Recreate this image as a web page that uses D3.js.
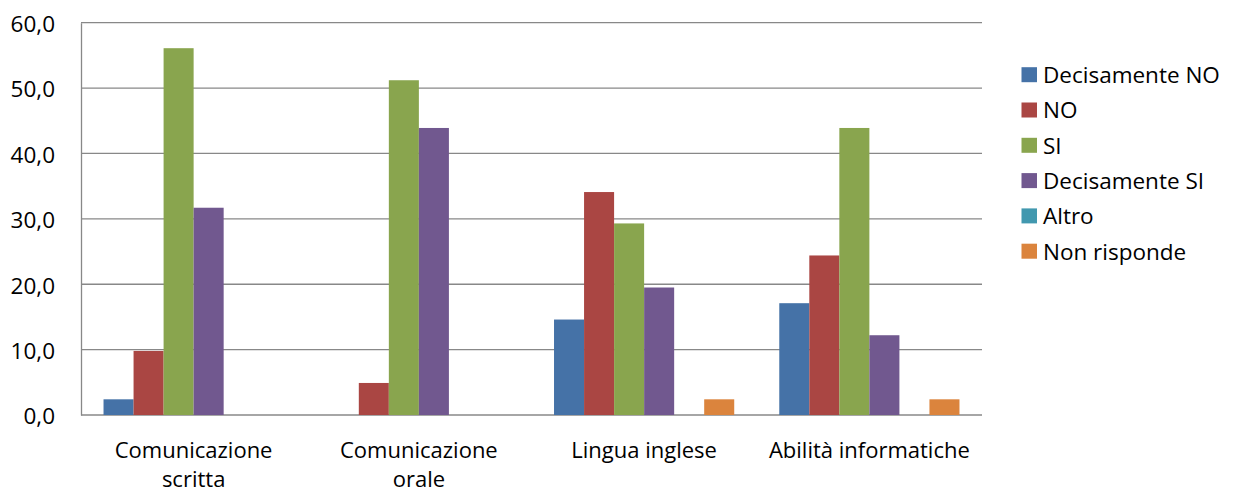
<!DOCTYPE html>
<html>
<head>
<meta charset="utf-8">
<script src="https://cdn.jsdelivr.net/npm/d3@7"></script>
<style>
  body { margin: 0; background: #fff; }
  text { font-family: "Open Sans", "Noto Sans", sans-serif; fill: #000; }
</style>
</head>
<body>
<div id="chart"></div>
<script>
const categories = [["Comunicazione", "scritta"], ["Comunicazione", "orale"], ["Lingua inglese"], ["Abilità informatiche"]];
const seriesNames = ["Decisamente NO", "NO", "SI", "Decisamente SI", "Altro", "Non risponde"];
const decisamenteNo = [2.4, 0, 14.6, 17.1];
const no = [9.8, 4.9, 34.1, 24.4];
const si = [56.1, 51.2, 29.3, 43.9];
const decisamenteSi = [31.7, 43.9, 19.5, 12.2];
const altro = [0, 0, 0, 0];
const nonRisponde = [0, 0, 2.4, 2.4];
const yTicks = [0, 10, 20, 30, 40, 50, 60];
const colors = ["#4572A7", "#AA4643", "#89A54E", "#71588F", "#4198AF", "#DB843D"];

const series = [decisamenteNo, no, si, decisamenteSi, altro, nonRisponde];
const width = 1233, height = 493;
const margin = { left: 81, right: 251, top: 22.7, bottom: 78 };
const fontSize = 22.5;

const svg = d3.select("#chart").append("svg")
  .attr("width", width).attr("height", height);

const x0 = d3.scaleBand()
  .domain(d3.range(categories.length))
  .range([margin.left, width - margin.right]);
const x1 = d3.scaleBand()
  .domain(d3.range(seriesNames.length))
  .range([0, x0.bandwidth()])
  .paddingOuter(0.75);
const y = d3.scaleLinear().domain([0, 60]).range([height - margin.bottom, margin.top]);

// gridlines
svg.append("g")
  .selectAll("line").data(yTicks).join("line")
  .attr("x1", margin.left).attr("x2", width - margin.right)
  .attr("y1", d => y(d)).attr("y2", d => y(d))
  .attr("stroke", "#888").attr("stroke-width", 1.3);

// bars
const groups = svg.append("g").selectAll("g").data(categories).join("g")
  .attr("transform", (d, i) => `translate(${x0(i)},0)`);
groups.selectAll("rect")
  .data((d, i) => series.map((s, j) => ({ j, v: s[i] })))
  .join("rect")
  .attr("x", d => x1(d.j))
  .attr("width", x1.bandwidth())
  .attr("y", d => y(d.v))
  .attr("height", d => y(0) - y(d.v))
  .attr("fill", d => colors[d.j]);

// y axis
const yAxis = svg.append("g")
  .attr("transform", `translate(${margin.left},0)`)
  .call(d3.axisLeft(y).tickValues(yTicks).tickSize(0).tickPadding(26)
    .tickFormat(d => d3.format(".1f")(d).replace(".", ",")));
yAxis.select(".domain").attr("stroke", "#888").attr("stroke-width", 1.3);
yAxis.selectAll("text").attr("font-size", fontSize).attr("dy", "0.39em")
  .style("font-family", "'Open Sans', 'Noto Sans', sans-serif");

// x labels, one text per line
const labelLines = categories.flatMap((lines, i) => lines.map((t, k) => ({ i, k, t })));
svg.append("g").selectAll("text").data(labelLines).join("text")
  .attr("x", d => x0(d.i) + x0.bandwidth() / 2)
  .attr("y", d => 457.5 + d.k * 29.5)
  .attr("text-anchor", "middle")
  .attr("font-size", 22)
  .text(d => d.t);

// legend
const legend = svg.append("g").selectAll("g").data(seriesNames).join("g")
  .attr("transform", (d, i) => `translate(1021.5,${74.7 + i * 35.3})`);
legend.append("rect")
  .attr("x", 0).attr("y", -7.5).attr("width", 15.5).attr("height", 15)
  .attr("fill", (d, i) => colors[i]);
legend.append("text")
  .attr("x", 21.5).attr("dy", "0.37em")
  .attr("font-size", fontSize)
  .text(d => d);
</script>
</body>
</html>
